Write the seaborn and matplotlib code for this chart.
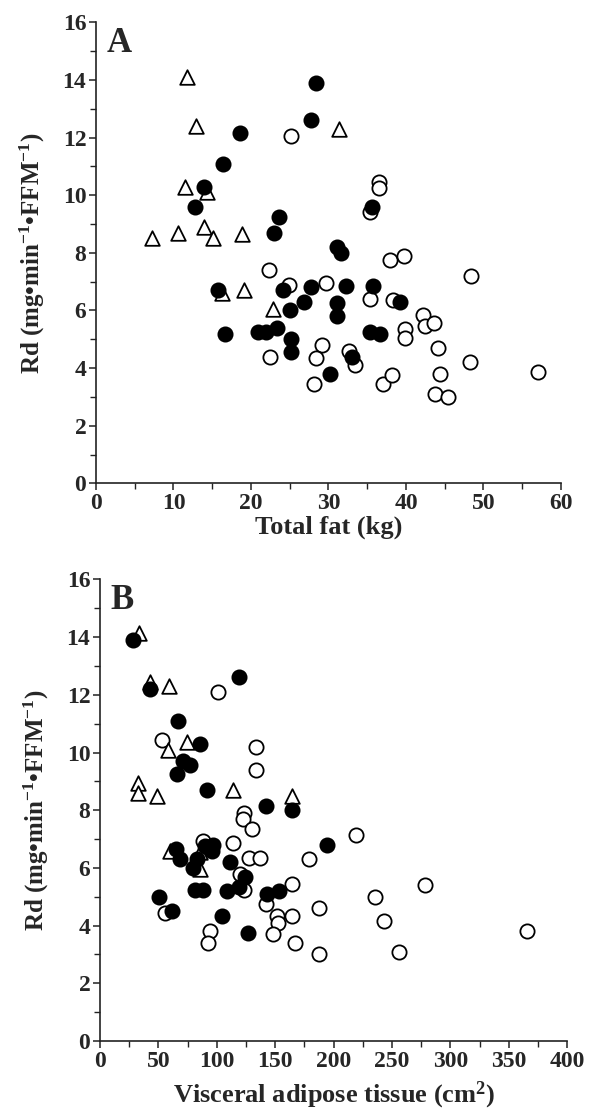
import numpy as np
import pandas as pd
import matplotlib
matplotlib.use("Agg")
import matplotlib.pyplot as plt
from matplotlib.ticker import MultipleLocator
import seaborn as sns

# ---------------- Panel A: Total fat (kg) vs Rd ----------------
a_tri_x = [11.7, 12.9, 31.4, 11.5, 14.3, 14.0, 10.6, 7.2, 15.1, 18.9, 16.2, 19.1, 22.8]
a_tri_y = [14.1, 12.4, 12.3, 10.3, 10.1, 8.9, 8.7, 8.5, 8.5, 8.65, 6.6, 6.7, 6.05]

a_fill_x = [28.4, 27.8, 18.6, 16.4, 14.0, 12.8, 23.6, 23.0, 31.1, 31.6, 35.6, 27.8, 32.3,
            35.8, 26.9, 31.1, 31.1, 39.2, 35.3, 36.6, 33.0, 30.2, 15.7, 24.1, 25.0, 16.6,
            20.9, 22.0, 23.3, 25.1, 25.1]
a_fill_y = [13.9, 12.6, 12.15, 11.1, 10.3, 9.6, 9.25, 8.7, 8.2, 8.0, 9.6, 6.8, 6.85,
            6.85, 6.3, 6.25, 5.8, 6.3, 5.25, 5.2, 4.4, 3.8, 6.7, 6.7, 6.0, 5.2,
            5.25, 5.25, 5.4, 5.0, 4.55]

a_open_x = [25.2, 36.5, 36.5, 35.4, 37.9, 39.7, 48.4, 29.7, 35.3, 38.3, 42.2, 42.4, 43.6,
            39.9, 39.9, 44.1, 29.2, 28.4, 32.7, 33.4, 48.3, 28.1, 37.0, 38.2, 44.4, 43.8,
            45.4, 57.0, 22.3, 24.9, 22.4]
a_open_y = [12.05, 10.45, 10.25, 9.4, 7.75, 7.9, 7.2, 6.95, 6.4, 6.35, 5.85, 5.45, 5.55,
            5.35, 5.05, 4.7, 4.8, 4.35, 4.6, 4.1, 4.2, 3.45, 3.45, 3.75, 3.8, 3.1,
            3.0, 3.85, 7.4, 6.9, 4.4]

# ---------------- Panel B: Visceral adipose tissue (cm2) vs Rd ----------------
b_tri_x = [33.7, 42.8, 59.3, 58.5, 74.7, 32.8, 32.8, 48.5, 113.6, 164.1, 59.9, 85.6, 86.0]
b_tri_y = [14.15, 12.45, 12.3, 10.1, 10.35, 8.95, 8.6, 8.5, 8.7, 8.5, 6.6, 5.95, 6.55]

b_fill_x = [28.0, 42.8, 119.3, 67.0, 85.6, 71.3, 77.0, 66.2, 91.3, 141.8, 164.6, 89.9, 97.0,
            96.1, 65.0, 68.5, 82.8, 79.9, 111.3, 124.1, 119.2, 81.3, 88.4, 108.4, 142.7,
            153.5, 50.8, 61.4, 104.2, 126.4, 194.0]
b_fill_y = [13.9, 12.2, 12.6, 11.1, 10.3, 9.7, 9.55, 9.25, 8.7, 8.15, 8.0, 6.75, 6.8,
            6.6, 6.65, 6.3, 6.3, 6.0, 6.2, 5.7, 5.35, 5.25, 5.25, 5.2, 5.1,
            5.2, 5.0, 4.5, 4.35, 3.75, 6.8]

b_open_x = [101.3, 52.8, 133.3, 133.3, 123.3, 122.1, 130.4, 113.6, 88.4, 127.3, 137.0, 178.6,
            119.8, 123.3, 164.6, 55.6, 141.8, 151.2, 152.6, 164.1, 94.2, 92.7, 148.4, 166.9,
            187.5, 187.5, 219.1, 278.2, 235.4, 243.1, 255.9, 365.8]
b_open_y = [12.1, 10.45, 10.2, 9.4, 7.9, 7.7, 7.35, 6.85, 6.95, 6.35, 6.35, 6.3,
            5.8, 5.25, 5.45, 4.45, 4.75, 4.35, 4.1, 4.35, 3.8, 3.4, 3.7, 3.4,
            3.0, 4.6, 7.15, 5.4, 5.0, 4.15, 3.1, 3.8]

y_ticks = [0, 2, 4, 6, 8, 10, 12, 14, 16]
a_xticks = [0, 10, 20, 30, 40, 50, 60]
b_xticks = [0, 50, 100, 150, 200, 250, 300, 350, 400]

ylabel = r"Rd (mg•min$^{\mathbf{-1}}$•FFM$^{\mathbf{-1}}$)"
a_xlabel = "Total fat (kg)"
b_xlabel = r"Visceral adipose tissue (cm$^{\mathbf{2}}$)"

sns.set_style("ticks")
plt.rcParams["font.family"] = ["Liberation Serif", "DejaVu Serif"]
plt.rcParams["font.weight"] = "bold"
plt.rcParams["mathtext.fontset"] = "custom"
plt.rcParams["mathtext.rm"] = "Liberation Serif:bold"
plt.rcParams["mathtext.it"] = "Liberation Serif:bold"
plt.rcParams["mathtext.bf"] = "Liberation Serif:bold"
plt.rcParams["mathtext.default"] = "rm"

fig = plt.figure(figsize=(5.91, 11.17), dpi=100)
axA = fig.add_axes([0.1624, 0.5673, 0.7868, 0.4127])
axB = fig.add_axes([0.1692, 0.0680, 0.7907, 0.4133])

MS = 105
LW = 1.3


def draw(ax, ox, oy, tx, ty, fx, fy):
    sns.scatterplot(x=ox, y=oy, ax=ax, marker="o", s=MS, facecolor="white",
                    edgecolor="black", linewidth=LW, zorder=3)
    sns.scatterplot(x=tx, y=ty, ax=ax, marker="^", s=MS * 1.05, facecolor="white",
                    edgecolor="black", linewidth=LW, zorder=4)
    sns.scatterplot(x=fx, y=fy, ax=ax, marker="o", s=MS, facecolor="black",
                    edgecolor="black", linewidth=LW, zorder=5)


draw(axA, a_open_x, a_open_y, a_tri_x, a_tri_y, a_fill_x, a_fill_y)
draw(axB, b_open_x, b_open_y, b_tri_x, b_tri_y, b_fill_x, b_fill_y)

for ax, xt, xminor, xlab, letter, xpad in [
    (axA, a_xticks, 5, a_xlabel, "A", 1),
    (axB, b_xticks, 25, b_xlabel, "B", 6),
]:
    ax.set_xlim(xt[0], xt[-1])
    ax.set_ylim(0, 16)
    ax.set_xticks(xt)
    ax.set_yticks(y_ticks)
    ax.xaxis.set_minor_locator(MultipleLocator(xminor))
    ax.yaxis.set_minor_locator(MultipleLocator(1))
    ax.tick_params(axis="both", which="major", direction="out", length=5, width=1.1,
                   labelsize=17, pad=2, color="#222222")
    ax.tick_params(axis="both", which="minor", direction="out", length=4, width=1.0,
                   color="#222222")
    for lab in ax.get_xticklabels() + ax.get_yticklabels():
        lab.set_fontweight("bold")
    for sp in ["top", "right"]:
        ax.spines[sp].set_visible(False)
    for sp in ["left", "bottom"]:
        ax.spines[sp].set_linewidth(1.2)
        ax.spines[sp].set_color("#222222")
    ax.set_xlabel(xlab, fontsize=19, fontweight="bold", labelpad=xpad)
    ax.set_ylabel(ylabel, fontsize=18, fontweight="bold", labelpad=11)
    ax.text(0.022, 0.99, letter, transform=ax.transAxes, fontsize=25,
            fontweight="bold", va="top", ha="left")
    ax.set_facecolor("white")

fig.savefig("out.png", dpi=100, facecolor="white")
